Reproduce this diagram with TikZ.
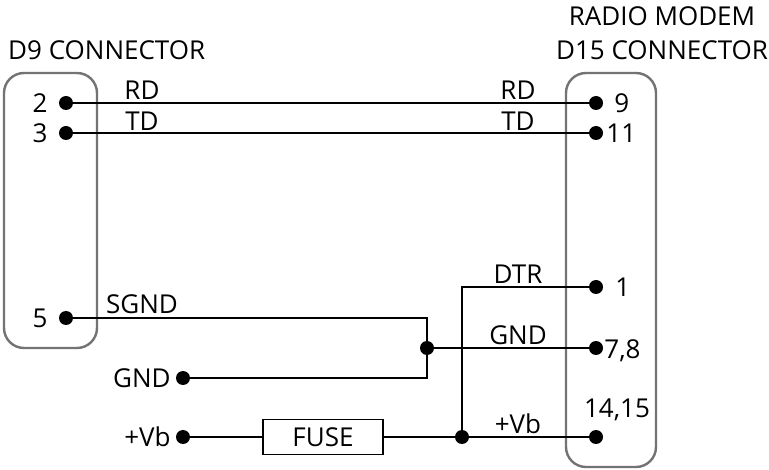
\documentclass[tikz,border=0pt]{standalone}
\usepackage{fontspec}
\setmainfont{Open Sans}
\usetikzlibrary{positioning}

\tikzset{
	dotnode/.style={circle, fill=black, inner sep=0pt, minimum size=14pt},
	wire/.style={draw=black, line width=1.6pt},
	connbox/.style={draw=black!55, line width=2.4pt, rounded corners=20pt},
	txt/.style={inner sep=0pt, font=\fontsize{26}{30}\selectfont},
}

\begin{document}
\begin{tikzpicture}[x=1pt, y=-1pt]

\useasboundingbox (0,0) rectangle (769,470);

% connector housings
\draw[connbox] (4,73) rectangle (97,348); % D9
\draw[connbox] (566,73) rectangle (656,467); % D15

\node[txt, anchor=west] (d9title) at (8,50) {D9 CONNECTOR};
\node[txt] (rtitle) at (662,16) {RADIO MODEM};
\node[txt] (d15title) at (662,50) {D15 CONNECTOR};

% D9 pins
\foreach \name/\num/\y in {d2/2/103, d3/3/133, d5/5/318} {
	\node[dotnode] (\name) at (66,\y) {};
	\node[txt, left=11pt of \name] {\num};
}

% D15 pins
\node[dotnode] (r9) at (596,103) {};
\node[txt, right=11pt of r9] {9};
\node[dotnode] (r11) at (596,133) {};
\node[txt, right=3pt of r11] {11};
\node[dotnode] (r1) at (596,287) {};
\node[txt, right=12pt of r1] {1};
\node[dotnode] (r78) at (596,348) {};
\node[txt, right=1pt of r78, yshift=-3pt] {7,8};
\node[dotnode] (r1415) at (596,437) {};
\node[txt] at (617,410) {14,15};

% supply side
\node[dotnode] (gnd) at (183,378) {};
\node[txt, left=5pt of gnd] {GND};
\node[dotnode] (vb) at (183,437) {};
\node[txt, left=5pt of vb] {+Vb};
\node[draw, line width=1.6pt, minimum width=120pt, minimum height=35pt, txt, inner sep=0pt] (fuse) at (323,437) {FUSE};

% junctions
\node[dotnode] (jg) at (427,348) {};
\node[dotnode] (jv) at (462,437) {};
\coordinate (sg1) at (427,318);
\coordinate (sg2) at (427,378);
\coordinate (dtr) at (462,287);

% wires
\draw[wire] (d2) -- (r9);
\draw[wire] (d3) -- (r11);
\draw[wire] (d5) -- (sg1) -- (sg2) -- (gnd);
\draw[wire] (jg) -- (r78);
\draw[wire] (r1) -- (dtr) -- (jv);
\draw[wire] (vb) -- (fuse) -- (jv) -- (r1415);

% wire labels
\node[txt] at (142,90) {RD};
\node[txt] at (518,90) {RD};
\node[txt] at (142,121) {TD};
\node[txt] at (518,121) {TD};
\node[txt] at (142,304) {SGND};
\node[txt] at (518,274) {DTR};
\node[txt] at (518,335) {GND};
\node[txt] at (518,424) {+Vb};

\end{tikzpicture}
\end{document}
